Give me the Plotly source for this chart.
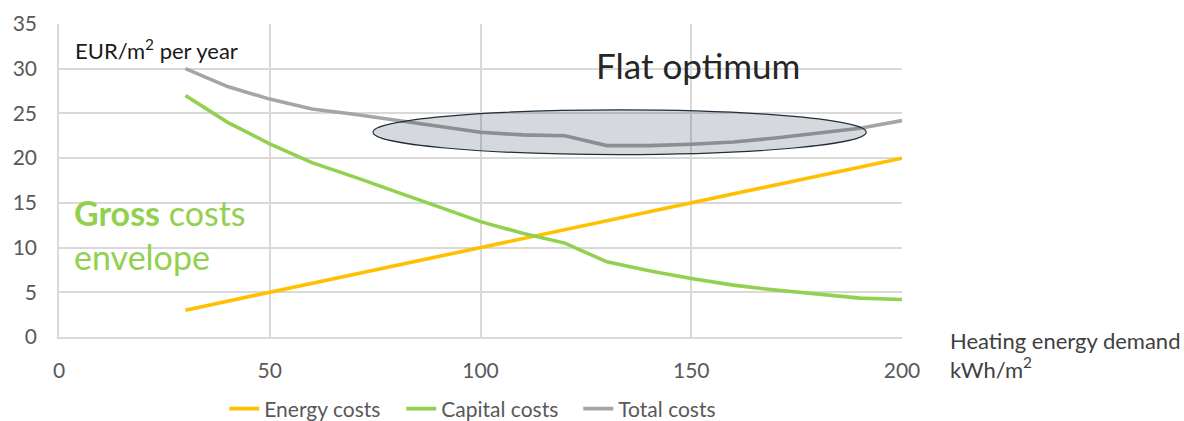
import plotly.graph_objects as go

# Heating energy demand (kWh/m2) and annual costs (EUR/m2 per year)
demand = [30, 40, 50, 60, 70, 80, 90, 100, 110, 120, 130, 140, 150, 160, 170, 180, 190, 200]
energy_costs = [3, 4, 5, 6, 7, 8, 9, 10, 11, 12, 13, 14, 15, 16, 17, 18, 19, 20]
capital_costs = [27, 24, 21.6, 19.5, 17.9, 16.2, 14.6, 12.9, 11.6, 10.5, 8.4, 7.4, 6.55, 5.8, 5.25, 4.75, 4.35, 4.2]
total_costs = [30, 28, 26.6, 25.5, 24.9, 24.2, 23.6, 22.9, 22.6, 22.5, 21.4, 21.4, 21.55, 21.8, 22.25, 22.75, 23.35, 24.2]

x_ticks = [0, 50, 100, 150, 200]
y_ticks = [0, 5, 10, 15, 20, 25, 30, 35]

FONT = "Lato"
TICK_COLOR = "#595959"
GRID = "#d9d9d9"

fig = go.Figure()
fig.add_trace(go.Scatter(x=demand, y=energy_costs, mode="lines", name="Energy costs",
                         line=dict(color="#ffc000", width=3.6)))
fig.add_trace(go.Scatter(x=demand, y=capital_costs, mode="lines", name="Capital costs",
                         line=dict(color="#92d050", width=3.6)))
fig.add_trace(go.Scatter(x=demand, y=total_costs, mode="lines", name="Total costs",
                         line=dict(color="#a5a5a5", width=3.6)))

# Shaded ellipse around the flat part of the total cost curve
fig.add_shape(type="circle", xref="x", yref="y", x0=74.5, x1=191.5, y0=20.4, y1=25.4,
              fillcolor="rgba(22,43,66,0.18)", line=dict(color="#1f2d3d", width=1.2),
              layer="above")

fig.add_annotation(x=0.017, y=0.92, xref="paper", yref="paper", xanchor="left", yanchor="middle",
                   text="EUR/m<sup>2</sup> per year", showarrow=False,
                   font=dict(family=FONT, size=22, color="#1a1a1a"))
fig.add_annotation(x=0.758, y=0.868, xref="paper", yref="paper", xanchor="center", yanchor="middle",
                   text="Flat optimum", showarrow=False,
                   font=dict(family=FONT, size=35, color="#262626"))
fig.add_annotation(x=0.015, y=0.327, xref="paper", yref="paper", xanchor="left", yanchor="middle",
                   align="left", text="<b>Gross</b> costs<br>envelope", showarrow=False,
                   font=dict(family=FONT, size=34, color="#92d050"))
fig.add_annotation(x=1.054, y=-0.057, xref="paper", yref="paper", xanchor="left", yanchor="middle",
                   align="left", text="Heating energy demand<br>kWh/m<sup>2</sup>", showarrow=False,
                   font=dict(family=FONT, size=22, color="#404040"))

fig.update_layout(
    width=1184, height=421,
    margin=dict(l=59, r=282, t=24, b=84, autoexpand=False),
    paper_bgcolor="white", plot_bgcolor="white",
    font=dict(family=FONT, size=21, color=TICK_COLOR),
    showlegend=True,
    legend=dict(orientation="h", x=0.511, xanchor="center", y=-0.23, yanchor="middle",
                font=dict(family=FONT, size=21, color=TICK_COLOR), itemwidth=30,
                entrywidth=132, tracegroupgap=0),
)
fig.update_xaxes(range=[0, 200], tickvals=x_ticks, showgrid=True, gridcolor=GRID, gridwidth=1.5,
                 zeroline=False, showline=True, linecolor=GRID, linewidth=1.5, mirror=False,
                 ticks="outside", ticklen=14, tickcolor="rgba(0,0,0,0)", automargin=False,
                 tickfont=dict(family=FONT, size=21, color=TICK_COLOR))
fig.update_yaxes(range=[0, 35], tickvals=y_ticks, showgrid=True, gridcolor=GRID, gridwidth=1.5,
                 zeroline=False, showline=True, linecolor=GRID, linewidth=1.5, automargin=False,
                 ticks="outside", ticklen=16, tickcolor="rgba(0,0,0,0)",
                 tickfont=dict(family=FONT, size=21, color=TICK_COLOR))

fig.write_html("out.html")
